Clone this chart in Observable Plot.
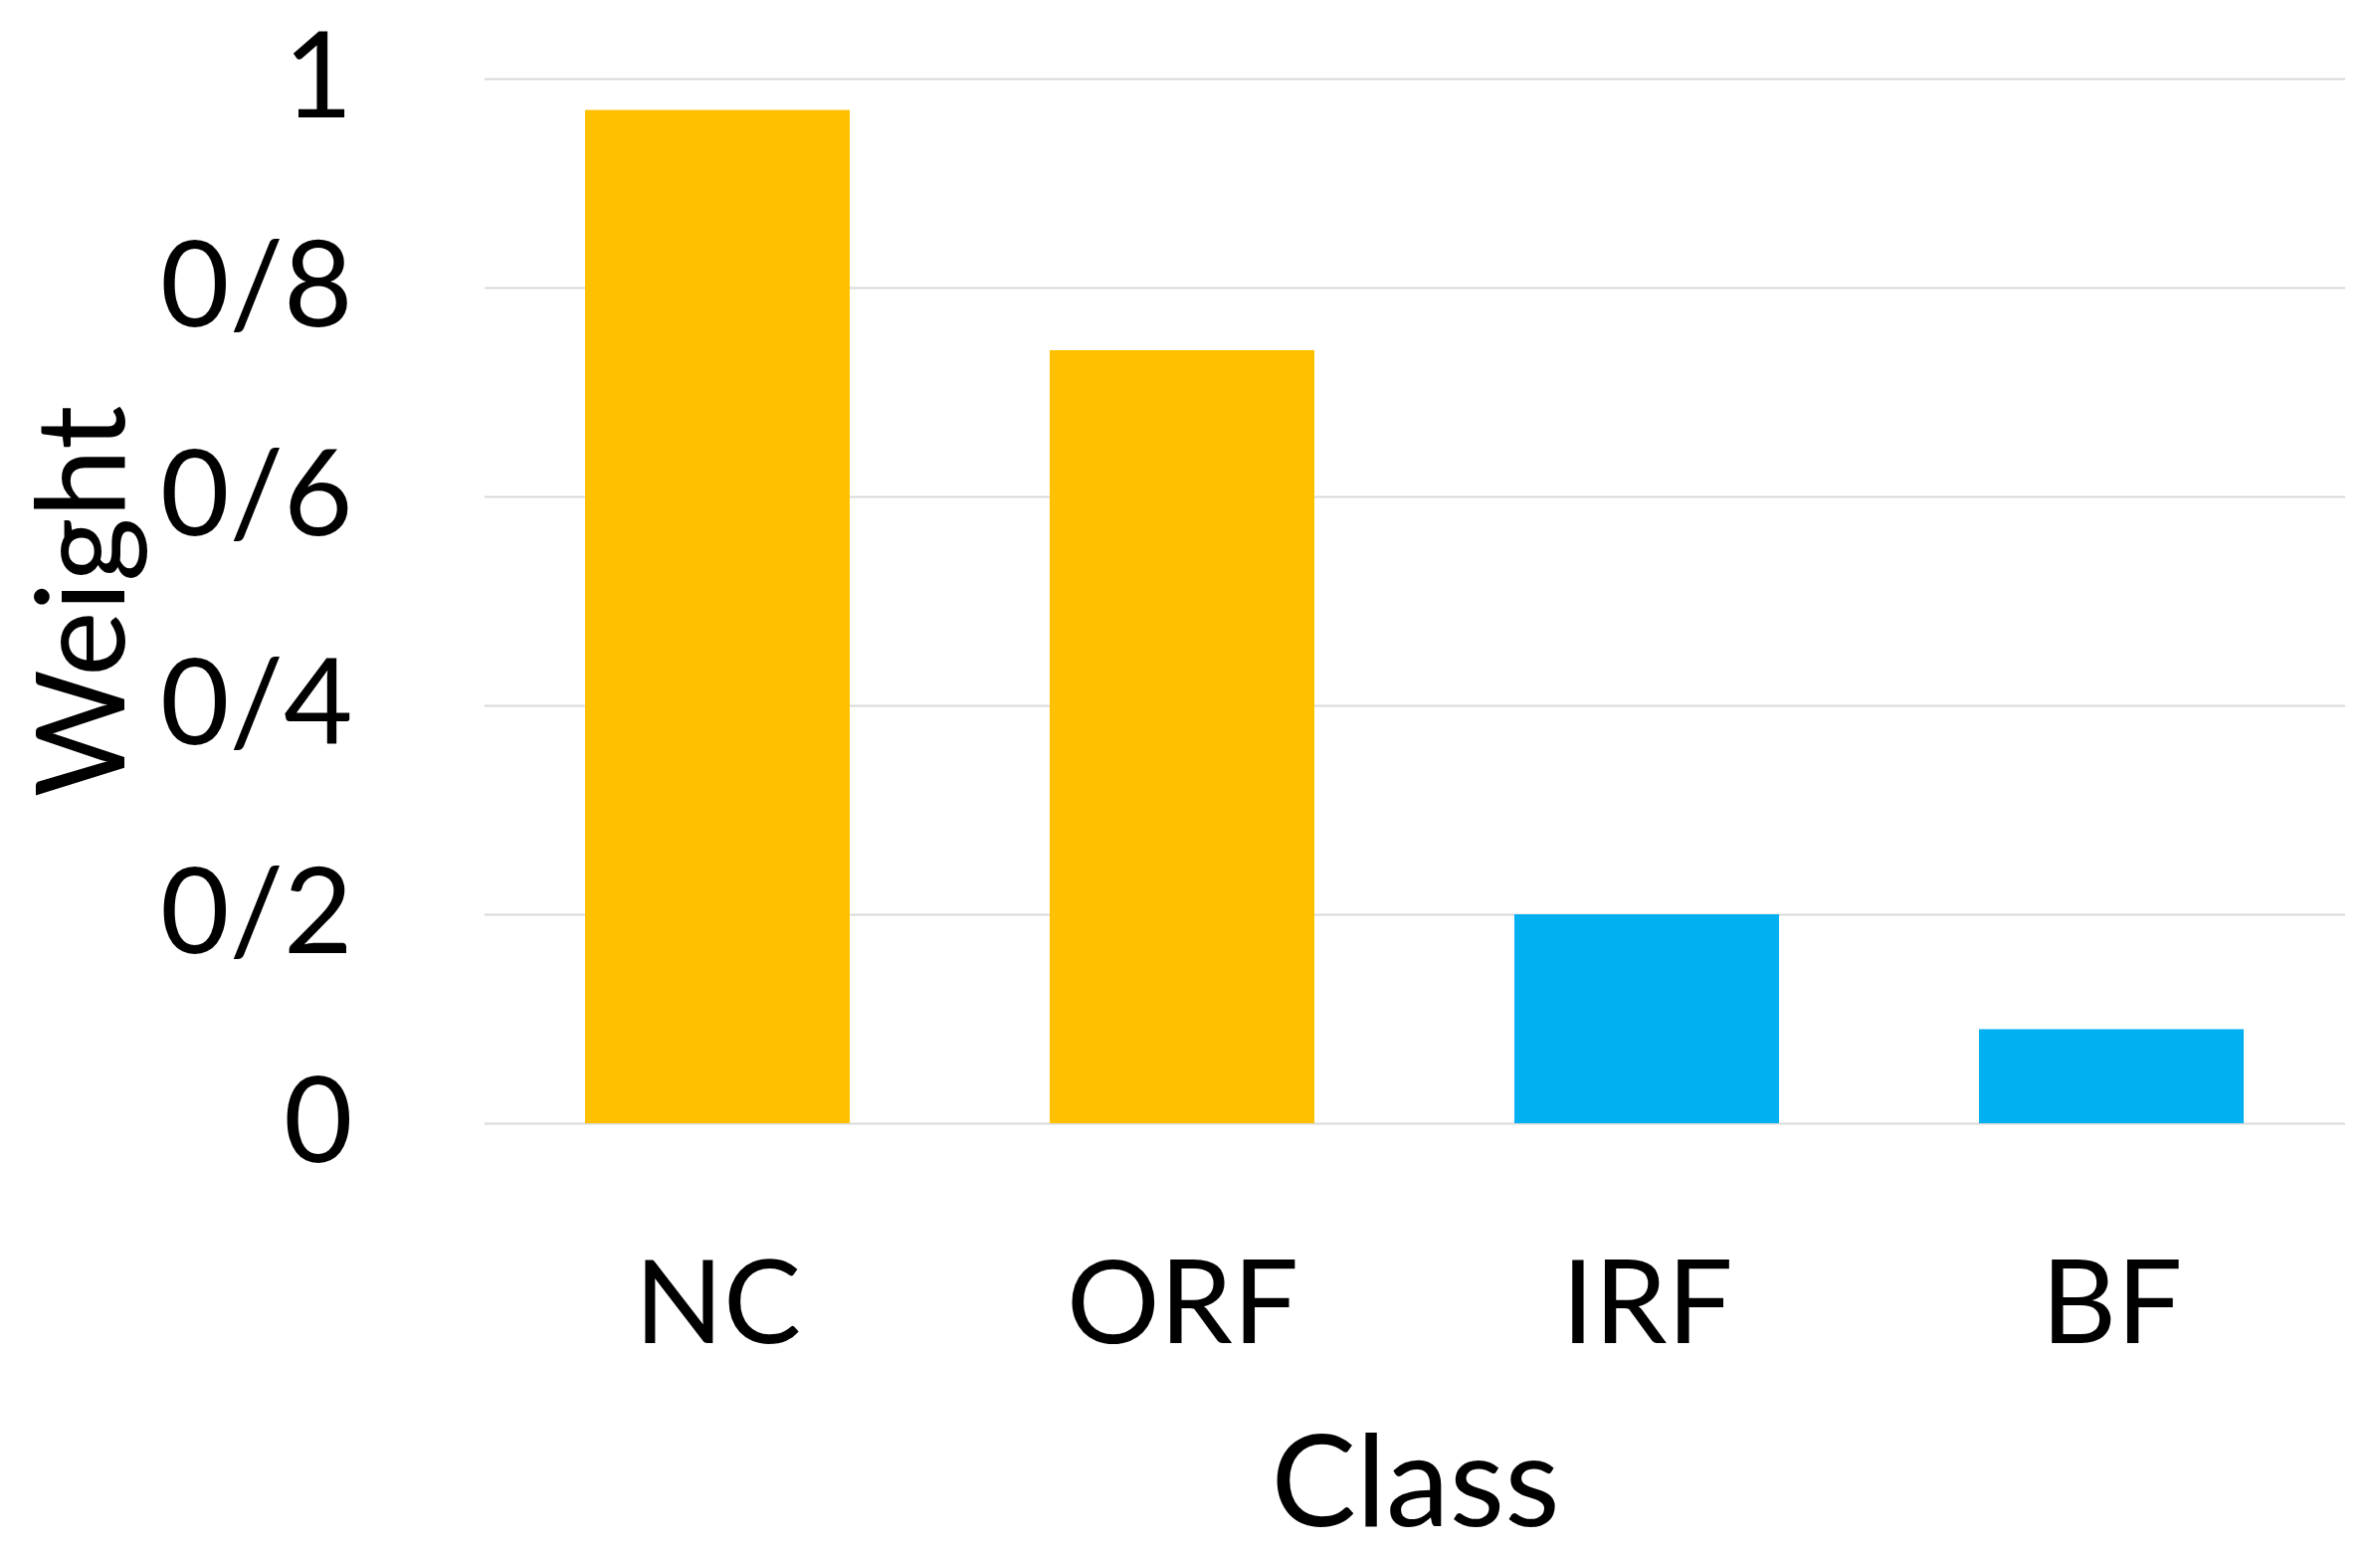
<!DOCTYPE html>
<html><head><meta charset="utf-8">
<script src="https://cdn.jsdelivr.net/npm/d3@7"></script>
<script src="https://cdn.jsdelivr.net/npm/@observablehq/plot@0.6"></script>
<style>body{margin:0;background:#fff}</style>
</head><body><div id="chart"></div>
<script>
const categories = ["NC", "ORF", "IRF", "BF"];
const weights = [0.97, 0.74, 0.20, 0.09];
const groups = ["A", "A", "B", "B"];
const yTicks = [0, 0.2, 0.4, 0.6, 0.8, 1];
const yTickLabels = ["0", "0/2", "0/4", "0/6", "0/8", "1"];
const xTitle = "Class";
const yTitle = "Weight";

const data = categories.map((c, i) => ({cls: c, weight: weights[i], group: groups[i]}));

const chart = Plot.plot({
  width: 2392, height: 1561,
  marginLeft: 487, marginRight: 35, marginTop: 79, marginBottom: 432,
  style: {fontFamily: "Lato", background: "#fff", color: "#000"},
  x: {domain: categories, paddingInner: 0.43, paddingOuter: 0.215},
  y: {domain: [0, 1]},
  color: {domain: ["A", "B"], range: ["#FFC000", "#00B0F0"]},
  marks: [
    Plot.gridY(yTicks, {stroke: "#d9d9d9", strokeOpacity: 1, strokeWidth: 2}),
    Plot.barY(data, {x: "cls", y: "weight", fill: "group"}),
    Plot.axisY(yTicks, {tickSize: 0, tickPadding: 133, tickFormat: d => yTickLabels[yTicks.indexOf(d)], fontSize: 120, label: null}),
    Plot.axisX({tickSize: 0, tickPadding: 137, fontSize: 117, label: null}),
    Plot.text([xTitle], {frameAnchor: "bottom", dy: 404, lineAnchor: "bottom", fontSize: 128}),
    Plot.text([yTitle], {frameAnchor: "left", textAnchor: "middle", rotate: -90, dx: -363, lineAnchor: "bottom", fontSize: 124})
  ]
});
document.getElementById("chart").append(chart);
</script>
</body></html>
